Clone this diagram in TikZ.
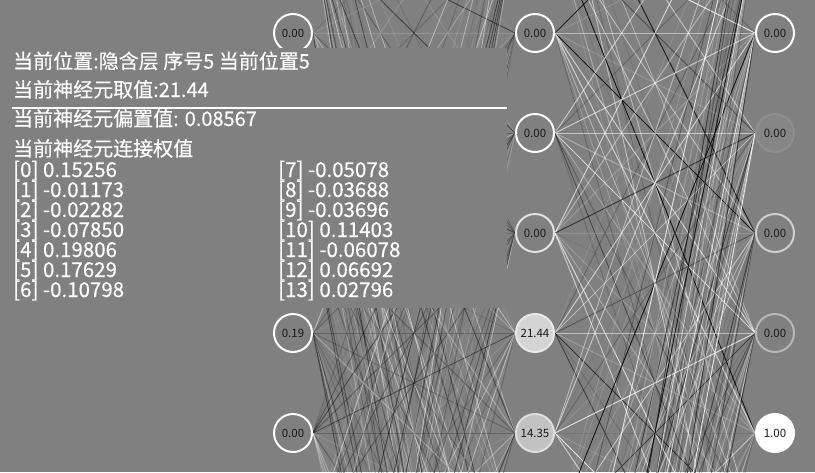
\documentclass[tikz,border=0pt]{standalone}
\usepackage{fontspec}
\setmainfont{Noto Sans CJK SC}
\newfontfamily\infofont[FakeBold=0.4]{Noto Sans CJK SC}
\definecolor{bg}{RGB}{128,128,128}
\definecolor{nodetext}{RGB}{24,24,24}
\pgfdeclarelayer{lines}
\pgfsetlayers{lines,main}
\tikzset{
  neuron/.style={circle, minimum size=38pt, inner sep=0pt, line width=2pt, draw=white, fill=bg, text=nodetext, font=\fontsize{11.5}{12}\selectfont},
  info/.style={anchor=base west, text=white, inner sep=0pt, font=\infofont\fontsize{20}{24}\selectfont},
  wlist/.style={anchor=base west, text=white, inner sep=0pt, font=\infofont\fontsize{20.5}{21}\selectfont},
  rulerline/.style={white, line width=2pt},
  panel/.style={fill=bg, draw=none},
  link/.style={line width=0.9pt},
}
\begin{document}
\begin{tikzpicture}[x=1pt,y=-1pt]
\useasboundingbox (0,0) rectangle (815,472);
\begin{scope}
\clip (0,0) rectangle (815,472);
% ---- input layer (hidden / off-screen neurons carry no visible text)
\foreach \i in {0,1,3,4,7,8,9,10,11,12,13} \node[neuron] (L\i) at (293,{-167+100*\i}) {};
\node[neuron] (L2) at (293,33) {0.00};
\node[neuron] (L5) at (293,333) {0.19};
\node[neuron] (L6) at (293,433) {0.00};
% ---- hidden layer
\foreach \j in {0,1,7,8,9,10,11,12,13,14,15} \node[neuron] (M\j) at (535,{-167+100*\j}) {};
\node[neuron] (M2) at (535,33) {0.00};
\node[neuron] (M3) at (535,133) {0.00};
\node[neuron, draw={rgb,255:red,226;green,226;blue,226}] (M4) at (535,233) {0.00};
\node[neuron, draw={rgb,255:red,232;green,232;blue,232}, fill={rgb,255:red,212;green,212;blue,212}] (M5) at (535,333) {21.44};
\node[neuron, draw={rgb,255:red,222;green,222;blue,222}, fill={rgb,255:red,194;green,194;blue,194}] (M6) at (535,433) {14.35};
% ---- output layer
\foreach \k in {0,1,7,8,9} \node[neuron] (R\k) at (775,{-167+100*\k}) {};
\node[neuron] (R2) at (775,33) {0.00};
\node[neuron, draw={rgb,255:red,142;green,142;blue,142}, fill={rgb,255:red,134;green,134;blue,134}] (R3) at (775,133) {0.00};
\node[neuron, draw={rgb,255:red,206;green,206;blue,206}] (R4) at (775,233) {0.00};
\node[neuron, draw={rgb,255:red,184;green,184;blue,184}] (R5) at (775,333) {0.00};
\node[neuron, fill=white] (R6) at (775,433) {1.00};
% ---- info panel
\fill[panel] (0,48) rectangle (507,308);
\node[info] (t1) at (13,68.5) {当前位置:隐含层 序号5 当前位置5};
\node[info] (t2) at (13,97) {当前神经元取值:21.44};
\coordinate (ra) at (12,108);
\coordinate (rb) at (507,108);
\draw[rulerline] (ra) -- (rb);
\node[info] (t3) at (13,126) {当前神经元偏置值: 0.08567};
\node[info] (t4) at (13,156) {当前神经元连接权值};
\node[wlist] (w0) at (13,177) {[0] 0.15256};
\node[wlist] (w1) at (13,197) {[1] -0.01173};
\node[wlist] (w2) at (13,217) {[2] -0.02282};
\node[wlist] (w3) at (13,237) {[3] -0.07850};
\node[wlist] (w4) at (13,257) {[4] 0.19806};
\node[wlist] (w5) at (13,277) {[5] 0.17629};
\node[wlist] (w6) at (13,297) {[6] -0.10798};
\node[wlist] (w7) at (278,177) {[7] -0.05078};
\node[wlist] (w8) at (278,197) {[8] -0.03688};
\node[wlist] (w9) at (278,217) {[9] -0.03696};
\node[wlist] (w10) at (278,237) {[10] 0.11403};
\node[wlist] (w11) at (278,257) {[11] -0.06078};
\node[wlist] (w12) at (278,277) {[12] 0.06692};
\node[wlist] (w13) at (278,297) {[13] 0.02796};
\end{scope}
% ---- connections
\begin{pgfonlayer}{lines}
\begin{scope}
\clip (0,0) rectangle (815,472);
\fill[bg] (0,0) rectangle (815,472);
\pgfmathsetseed{4711}
\foreach \i in {0,...,13}{
  \foreach \j in {0,...,15}{
    \pgfmathsetmacro\w{rand}
    \pgfmathsetmacro\op{0.06+0.44*abs(\w)^1.5}
    \pgfmathtruncatemacro\pos{\w>-0.1}
    \ifnum\pos=1 \def\lc{white}\else\def\lc{black}\fi
    \draw[link, draw=\lc, draw opacity=\op] (L\i.east) -- (M\j.west);
  }
}
\foreach \j in {0,...,15}{
  \foreach \k in {0,...,9}{
    \pgfmathsetmacro\w{rand}
    \pgfmathsetmacro\op{0.06+0.8*abs(\w)^1.5}
    \pgfmathtruncatemacro\pos{\w>0}
    \ifnum\pos=1 \def\lc{white}\else\def\lc{black}\fi
    \draw[link, draw=\lc, draw opacity=\op] (M\j.east) -- (R\k.west);
  }
}
\end{scope}
\end{pgfonlayer}
\end{tikzpicture}
\end{document}
